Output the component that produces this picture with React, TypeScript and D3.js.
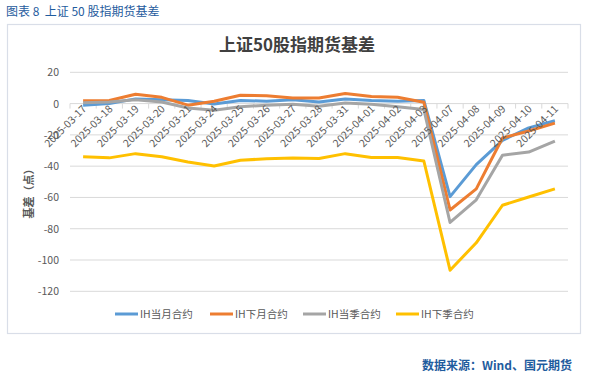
import React from "react";
import * as d3 from "d3";

const categories = [
  "2025-03-17", "2025-03-18", "2025-03-19", "2025-03-20", "2025-03-21",
  "2025-03-24", "2025-03-25", "2025-03-26", "2025-03-27", "2025-03-28",
  "2025-03-31", "2025-04-01", "2025-04-02", "2025-04-03", "2025-04-07",
  "2025-04-08", "2025-04-09", "2025-04-10", "2025-04-11",
];
const ihCurrentMonth = [-1, 0, 3, 2.5, 2, -0.3, 2, 1.5, 2.5, 1, 3, 2, 1.5, 2, -59.5, -39, -23.5, -15.5, -11];
const ihNextMonth = [1.8, 2, 6, 4, -1, 1.5, 5.3, 5, 3.6, 3.6, 6.4, 4.5, 4, 0.8, -68, -54.5, -22, -17.5, -12.5];
const ihCurrentQuarter = [0.5, 1, 2.5, 1, -2.8, -4.3, -2, -1, -0.5, -1.7, 0.4, -0.5, -2, -3.8, -76, -61.5, -33, -31, -24];
const ihNextQuarter = [-34, -34.7, -32, -34, -37.3, -39.9, -36.2, -35.3, -34.8, -35.1, -32, -34.5, -34.5, -36.7, -106.5, -89, -65, -59.7, -54.5];
const yTicks = [20, 0, -20, -40, -60, -80, -100, -120];
const seriesNames = ["IH当月合约", "IH下月合约", "IH当季合约", "IH下季合约"];
const seriesColors = ["#5B9BD5", "#ED7D31", "#A5A5A5", "#FFC000"];

const FONT = "'Noto Sans CJK SC', 'Noto Sans', sans-serif";

export default function App() {
  const W = 593, H = 374;
  const left = 70, right = 568;
  const x = d3.scaleBand<string>().domain(categories).range([left, right]);
  const y = d3.scaleLinear().domain([-120, 20]).range([291.3, 72.3]);
  const allSeries = [ihCurrentMonth, ihNextMonth, ihCurrentQuarter, ihNextQuarter];
  const line = d3.line<number>()
    .x((_, i) => (x(categories[i]) as number) + x.bandwidth() / 2)
    .y((d) => y(d));
  const legendX = [115, 210, 303, 396];

  return (
    <svg width={W} height={H} style={{ position: "absolute", left: 0, top: 0, background: "#fff" }}>
      <text x={6} y={16} fontSize={12} fill="#1F5C9E" fontFamily={FONT} style={{ whiteSpace: "pre" }}>{"图表 8  上证 50 股指期货基差"}</text>
      <rect x={7.5} y={24.5} width={573} height={309} fill="#fff" stroke="#D9DEE8" strokeWidth={1.2} />
      <text x={297} y={51} textAnchor="middle" fontSize={17} fontWeight="bold" fill="#404040" fontFamily={FONT}>上证50股指期货基差</text>

      {yTicks.map((t) => (
        <g key={t}>
          <line x1={left} x2={right} y1={y(t)} y2={y(t)} stroke="#D9D9D9" strokeWidth={1} />
          <text x={59} y={y(t) + 4} textAnchor="end" fontSize={10.5} fill="#595959" fontFamily={FONT}>{t}</text>
        </g>
      ))}
      {categories.map((c, i) => (
        <line key={"tk" + i} x1={(x(c) as number)} x2={(x(c) as number)} y1={y(0)} y2={y(0) + 5} stroke="#D9D9D9" />
      ))}
      <line x1={right} x2={right} y1={y(0)} y2={y(0) + 5} stroke="#D9D9D9" />

      {allSeries.map((s, k) => (
        <path key={k} d={line(s) as string} fill="none" stroke={seriesColors[k]} strokeWidth={3} strokeLinejoin="round" />
      ))}

      {categories.map((c) => {
        const cx = (x(c) as number) + x.bandwidth() / 2 + 4;
        const cy = y(0) + 6;
        return (
          <text key={c} x={cx} y={cy} transform={`rotate(-45, ${cx}, ${cy})`} textAnchor="end" fontSize={10.5}
            fill="#595959" fontFamily={FONT}>{c}</text>
        );
      })}

      <text x={0} y={0} transform="translate(33, 191) rotate(-90)" textAnchor="middle" fontSize={11} fontWeight="bold"
        fill="#595959" fontFamily={FONT}>基差（点）</text>

      {seriesNames.map((n, k) => (
        <g key={n}>
          <line x1={legendX[k]} x2={legendX[k] + 23} y1={314} y2={314} stroke={seriesColors[k]} strokeWidth={3} />
          <text x={legendX[k] + 25} y={318} fontSize={10.5} fill="#595959" fontFamily={FONT}>{n}</text>
        </g>
      ))}

      <text x={572} y={370} textAnchor="end" fontSize={12} fontWeight="bold" fill="#1F5C9E" fontFamily={FONT}>数据来源：Wind、国元期货</text>
    </svg>
  );
}
